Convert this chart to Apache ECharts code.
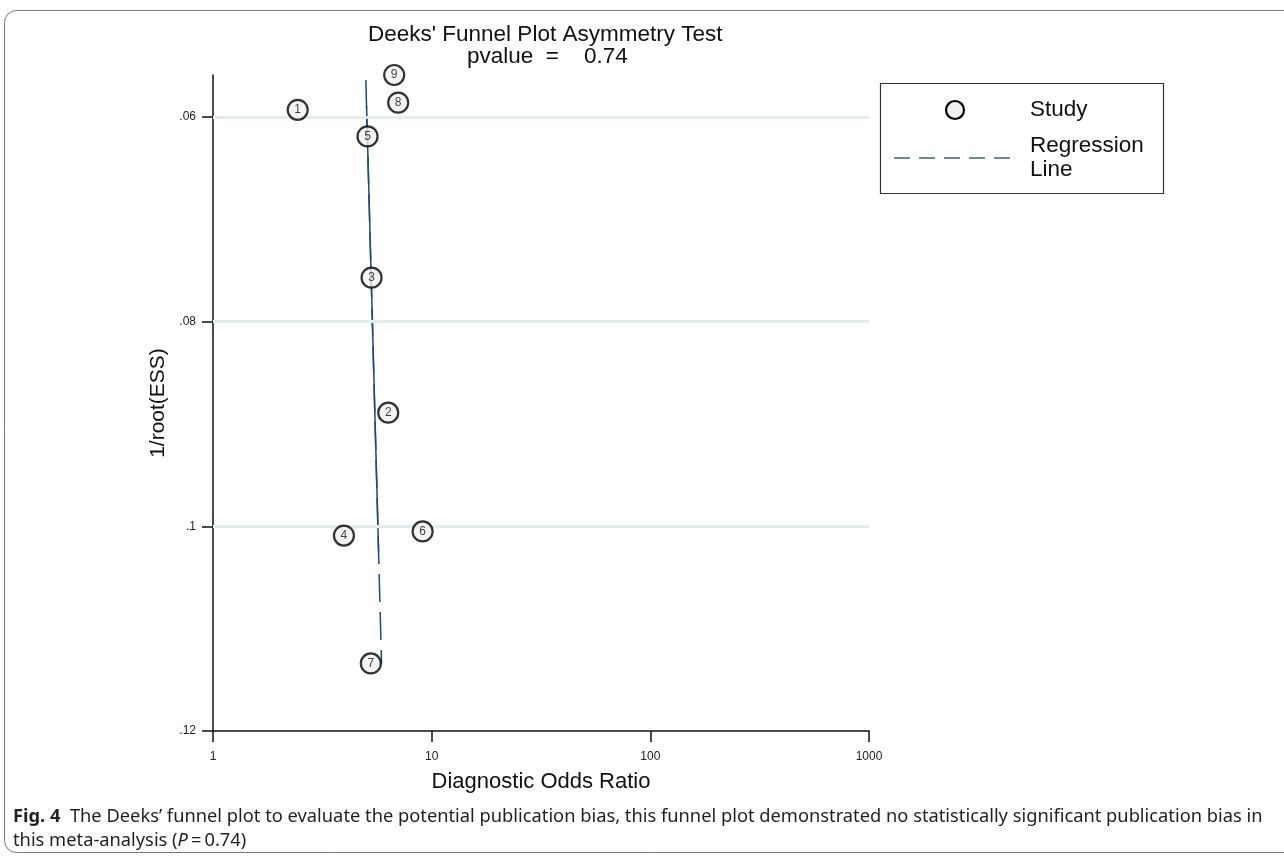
<!DOCTYPE html>
<html>
<head>
<meta charset="utf-8">
<script src="https://cdn.jsdelivr.net/npm/echarts@6/dist/echarts.min.js"></script>
<style>
  html, body { margin: 0; padding: 0; background: #fff; }
  #chart { width: 1284px; height: 858px; }
</style>
</head>
<body>
<div id="chart"></div>
<script>
// Study estimates: diagnostic odds ratio vs 1/sqrt(effective sample size)
const studyIds = ['1', '2', '3', '4', '5', '6', '7', '8', '9'];
const studyDOR = [2.44, 6.33, 5.31, 3.97, 5.09, 9.09, 5.27, 7.03, 6.74];
const studyInvRootESS = [0.0593, 0.0889, 0.0757, 0.1009, 0.0619, 0.1005, 0.1134, 0.0586, 0.0559];

// Fitted regression line (end points) and its solid middle stretch
const regDOR = [5.00, 5.90];
const regInvRootESS = [0.0564, 0.1134];
const regSolidDOR = [5.04, 5.72];
const regSolidInvRootESS = [0.0590, 0.1025];

// Axis ticks
const yTicks = [0.06, 0.08, 0.1, 0.12];
const yGridLines = [0.06, 0.08, 0.1];
const xMin = 1, xMax = 1000;
const yMin = 0.0559, yMax = 0.12;

const pValue = '0.74';

const FONT = "'Liberation Sans', Arial, sans-serif";
const CAPTION_FONT = "'Noto Sans', 'Open Sans', sans-serif";
const REG_COLOR = '#1f4a78';

const chart = echarts.init(document.getElementById('chart'), null, { renderer: 'canvas' });

const pairs = (xs, ys) => xs.map((x, i) => [x, ys[i]]);
const yFmt = v => String(+v.toFixed(2)).replace(/^0\./, '.');

const option = {
  animation: false,
  backgroundColor: '#fff',
  grid: { left: 213, right: 415, top: 75, bottom: 127 },
  xAxis: {
    type: 'log', logBase: 10, min: xMin, max: xMax,
    name: 'Diagnostic Odds Ratio', nameLocation: 'middle', nameGap: 40,
    nameTextStyle: { fontFamily: FONT, fontSize: 22, color: '#111' },
    axisLine: { lineStyle: { color: '#111', width: 1.5 } },
    axisTick: { length: 11, lineStyle: { color: '#111', width: 1.5 } },
    axisLabel: { fontFamily: FONT, fontSize: 12, color: '#222', margin: 20, formatter: v => String(v) },
    splitLine: { show: false }, minorTick: { show: false }
  },
  yAxis: {
    type: 'value', inverse: true, min: yMin, max: yMax,
    name: '1/root(ESS)', nameLocation: 'middle', nameGap: 38,
    nameTextStyle: { fontFamily: FONT, fontSize: 21, color: '#111' },
    axisLine: { show: true, lineStyle: { color: '#111', width: 1.5 } },
    axisTick: { show: true, length: 11, customValues: yTicks, lineStyle: { color: '#111', width: 1.5 } },
    axisLabel: { fontFamily: FONT, fontSize: 12, color: '#222', margin: 17, customValues: yTicks, formatter: yFmt },
    splitLine: { show: false }
  },
  series: [
    {
      name: 'grid', type: 'line', data: [], silent: true,
      markLine: {
        silent: true, symbol: 'none', label: { show: false },
        lineStyle: { color: '#e3edef', width: 3, type: 'solid' },
        data: yGridLines.map(v => ({ yAxis: v }))
      }
    },
    {
      name: 'Regression Line', type: 'line', data: pairs(regDOR, regInvRootESS),
      showSymbol: false, symbol: 'none', z: 3,
      lineStyle: { color: REG_COLOR, width: 1.5, type: [28, 10] }
    },
    {
      name: 'Regression solid', type: 'line', data: pairs(regSolidDOR, regSolidInvRootESS),
      showSymbol: false, symbol: 'none', z: 3,
      lineStyle: { color: REG_COLOR, width: 1.5, type: 'solid' }
    },
    {
      name: 'Study', type: 'scatter', clip: false, z: 5,
      data: studyDOR.map((x, i) => ({ value: [x, studyInvRootESS[i]], name: studyIds[i] })),
      symbol: 'circle', symbolSize: 20,
      itemStyle: { color: '#f0f0f0', borderColor: '#000', borderWidth: 2.2 },
      label: { show: true, position: 'inside', formatter: p => p.name, fontFamily: FONT, fontSize: 12, color: '#111' }
    }
  ],
  graphic: [
    // outer frame
    { type: 'rect', shape: { x: 4.5, y: 10.5, width: 1300, height: 842, r: 12 },
      style: { fill: 'none', stroke: '#7a7a7a', lineWidth: 1 }, silent: true },
    // titles
    { type: 'text', x: 368, y: 35, style: { text: "Deeks' Funnel Plot Asymmetry Test", font: "22.5px " + FONT, fill: '#111', align: 'left', verticalAlign: 'middle' } },
    { type: 'text', x: 467, y: 57, style: { text: 'pvalue  =    ' + pValue, font: "22.5px " + FONT, fill: '#111', align: 'left', verticalAlign: 'middle' } },
    // legend box
    { type: 'rect', shape: { x: 880.5, y: 83.5, width: 283, height: 110 },
      style: { fill: '#fff', stroke: '#333', lineWidth: 1.2 } },
    { type: 'circle', shape: { cx: 955, cy: 110, r: 9 },
      style: { fill: '#f0f0f0', stroke: '#000', lineWidth: 2.2 } },
    { type: 'text', x: 1030, y: 110, style: { text: 'Study', font: "22.5px " + FONT, fill: '#111', verticalAlign: 'middle' } },
    { type: 'line', shape: { x1: 894, y1: 158, x2: 1010, y2: 158 },
      style: { stroke: '#44627f', lineWidth: 1.5, lineDash: [16, 9] } },
    { type: 'text', x: 1030, y: 146, style: { text: 'Regression', font: "22.5px " + FONT, fill: '#111', verticalAlign: 'middle' } },
    { type: 'text', x: 1030, y: 170, style: { text: 'Line', font: "22.5px " + FONT, fill: '#111', verticalAlign: 'middle' } },
    // caption
    { type: 'text', x: 13, y: 817, style: {
        text: '{b|Fig. 4}  The Deeks\u2019 funnel plot to evaluate the potential publication bias, this funnel plot demonstrated no statistically significant publication bias in',
        font: "18.3px " + CAPTION_FONT, fill: '#231f20', verticalAlign: 'middle',
        rich: { b: { fontWeight: 'bold', fontSize: 18.3, fontFamily: 'Noto Sans', fill: '#231f20' } } } },
    { type: 'text', x: 13, y: 841, style: {
        text: 'this meta-analysis ({i|P}\u2009=\u20090.74)',
        font: "18.3px " + CAPTION_FONT, fill: '#231f20', verticalAlign: 'middle',
        rich: { i: { fontStyle: 'italic', fontSize: 18.3, fontFamily: 'Noto Sans', fill: '#231f20' } } } }
  ]
};

chart.setOption(option);
</script>
</body>
</html>
